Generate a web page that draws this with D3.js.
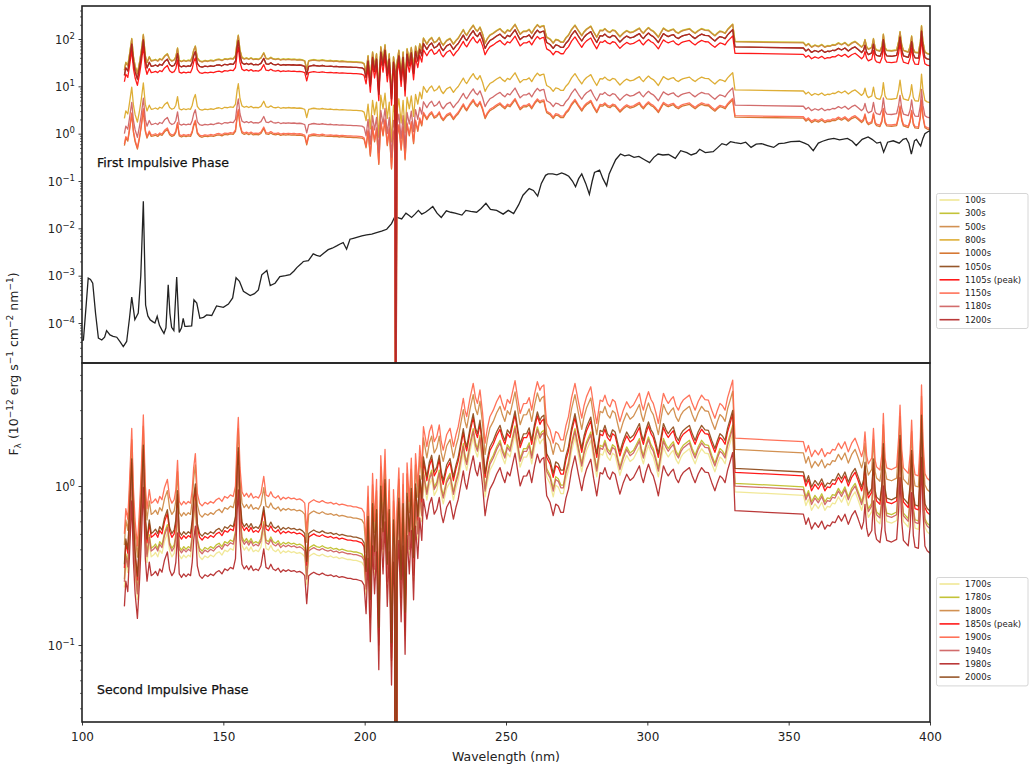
<!DOCTYPE html>
<html>
<head>
<meta charset="utf-8">
<script src="https://cdn.jsdelivr.net/npm/d3@7"></script>
<style>
  body { margin: 0; background: #fff; }
  svg { display: block; font-family: "DejaVu Sans", sans-serif; }
</style>
</head>
<body>
<svg id="chart" width="1029" height="767"></svg>
<script>
// Spectral profile of the 1900s run (lower panel), [wavelength nm, flux].
// The other runs are this profile times the level read for each run.
const profile = [
  [115.0, 0.50], [115.5, 0.72], [116.2, 0.62], [116.8, 1.05], [117.6, 2.3], [118.2, 0.95], [118.8, 0.6],
  [119.6, 0.42], [120.4, 0.75], [121.0, 1.3], [121.7, 2.8], [122.4, 1.0], [123.0, 0.72], [123.8, 0.95],
  [124.5, 0.78], [125.3, 0.8], [126.0, 0.83], [126.8, 0.78], [127.5, 0.86], [128.3, 0.82], [129.2, 0.98],
  [130.2, 1.1], [131.0, 0.85], [131.8, 0.78], [132.6, 0.82], [133.2, 0.95], [133.8, 1.45], [134.4, 0.8],
  [135.2, 0.76], [136.0, 0.8], [136.8, 0.77], [137.6, 0.8], [138.4, 0.78], [139.0, 0.95], [139.5, 1.3],
  [140.1, 1.6], [140.8, 0.9], [141.6, 0.78], [142.5, 0.75], [143.5, 0.79], [144.5, 0.77], [145.5, 0.8],
  [146.5, 0.78], [147.5, 0.82], [148.5, 0.84], [149.5, 0.8], [150.5, 0.86], [151.5, 0.84], [152.5, 0.88],
  [153.5, 0.86], [154.3, 1.0], [154.9, 2.0], [155.3, 2.7], [155.9, 1.3], [156.6, 0.92], [157.4, 0.86],
  [158.2, 0.9], [159.0, 0.85], [159.8, 0.9], [160.6, 0.84], [161.5, 0.86], [162.4, 0.84], [163.3, 0.9],
  [164.3, 1.15], [165.1, 0.88], [166.0, 0.86], [166.8, 0.92], [167.6, 0.86], [168.5, 0.84], [169.4, 0.87],
  [170.3, 0.82], [171.2, 0.85], [172.1, 0.83], [173.0, 0.85], [174.0, 0.83], [175.0, 0.84], [176.0, 0.82],
  [177.0, 0.83], [178.0, 0.81], [178.8, 0.78], [179.5, 0.52], [180.2, 0.78], [181.0, 0.8], [182.0, 0.82],
  [183.0, 0.8], [184.0, 0.79], [185.0, 0.81], [186.0, 0.79], [187.0, 0.78], [188.0, 0.79], [189.0, 0.77],
  [190.0, 0.78], [191.0, 0.76], [192.0, 0.77], [193.0, 0.76], [194.0, 0.75], [195.0, 0.75], [196.0, 0.74],
  [197.0, 0.74], [198.0, 0.73], [199.0, 0.72], [199.8, 0.68], [200.5, 0.45],
  [201.2, 1.0], [202.0, 0.3], [202.8, 1.2], [203.5, 0.6], [204.2, 1.1], [205.0, 0.2], [205.7, 1.55],
  [206.5, 0.8], [207.2, 1.7], [208.0, 0.5], [208.7, 1.1], [209.5, 0.16], [210.2, 0.95], [210.7, 0.6],
  [211.0, 1e-9], [211.4, 0.7], [212.1, 1.3], [212.9, 0.4], [213.6, 1.2], [214.3, 0.25], [215.0, 1.4],
  [215.8, 0.8], [216.5, 1.5], [217.3, 0.55], [218.0, 1.6], [218.8, 1.0], [219.5, 1.8], [220.2, 1.3],
  [220.8, 2.36], [222.0, 1.77], [222.9, 2.2], [223.7, 2.42], [224.6, 1.9], [225.5, 2.04], [226.4, 2.42],
  [227.1, 1.9], [227.8, 1.68], [229.0, 2.1], [230.2, 2.31], [231.4, 1.77], [232.3, 2.1], [233.1, 2.36],
  [234.0, 2.9], [234.9, 3.56], [235.5, 3.0], [236.1, 2.73], [237.3, 3.6], [238.4, 4.42], [239.2, 3.6],
  [239.9, 3.31], [240.8, 4.02], [241.7, 2.9], [242.6, 1.86], [243.4, 2.3], [244.3, 2.73], [245.5, 3.0],
  [246.7, 3.4], [247.9, 3.73], [248.7, 3.3], [249.6, 3.0], [250.5, 3.5], [251.4, 3.31], [252.3, 3.9],
  [253.2, 4.6], [254.1, 3.6], [255.0, 2.86], [256.2, 3.3], [257.3, 3.31], [258.2, 3.6], [259.1, 3.0],
  [260.1, 3.8], [261.1, 4.53], [262.0, 4.0], [262.6, 4.21], [263.4, 4.32], [264.0, 3.0], [264.4, 2.48],
  [265.6, 2.25], [266.7, 1.86], [267.6, 2.2], [268.5, 2.14], [269.4, 1.95], [270.3, 1.95], [271.2, 2.4],
  [272.1, 2.73], [273.2, 3.6], [274.4, 4.42], [275.6, 3.4], [276.8, 2.67], [277.6, 3.2], [278.5, 3.65],
  [279.2, 3.9], [280.0, 4.21], [281.0, 3.2], [282.1, 2.48], [283.3, 3.47], [284.2, 3.4], [285.0, 3.73],
  [285.9, 3.3], [286.8, 3.15], [287.7, 3.5], [288.6, 3.39], [289.5, 2.9], [290.3, 2.54], [291.5, 3.0],
  [292.7, 3.39], [293.9, 3.1], [295.1, 3.23], [296.1, 3.5], [297.2, 3.83], [297.9, 3.3], [298.6, 3.0],
  [299.5, 3.5], [300.4, 3.92], [301.3, 3.5], [302.1, 3.31], [303.0, 2.9], [303.9, 2.48], [304.8, 3.1],
  [305.7, 3.83], [306.6, 3.5], [307.4, 3.31], [308.3, 3.5], [309.2, 3.65], [310.1, 3.2], [311.0, 3.0],
  [311.9, 3.3], [312.7, 3.47], [313.8, 3.6], [314.9, 3.73], [315.9, 3.3], [316.9, 3.0], [318.0, 3.4],
  [319.2, 3.73], [320.4, 3.5], [321.6, 3.47], [322.8, 3.0], [323.9, 2.67], [324.8, 3.0], [325.7, 3.31],
  [326.6, 3.2], [327.5, 3.0], [328.4, 3.6], [329.2, 4.02], [330.2, 4.64], [331.0, 2.0],
  [355.2, 1.9], [356.1, 1.64], [357.0, 1.8], [358.1, 1.53], [359.3, 1.68], [360.5, 1.57], [361.7, 1.72],
  [362.8, 1.53], [363.7, 1.62], [364.6, 1.6], [365.5, 1.7], [366.4, 1.68], [367.6, 1.86], [368.7, 1.72],
  [369.9, 1.9], [371.1, 1.64], [372.3, 1.86], [373.5, 2.0], [374.6, 1.77], [375.8, 1.53], [376.5, 1.7],
  [377.0, 2.19], [377.6, 1.55], [378.2, 1.38], [379.4, 1.5], [380.0, 2.3], [380.6, 1.45], [381.1, 1.32],
  [382.3, 1.26], [383.0, 1.6], [383.5, 2.86], [384.1, 1.5], [384.7, 1.3], [386.4, 1.27], [388.2, 1.32],
  [388.9, 2.0], [389.4, 3.23], [390.0, 1.7], [390.6, 1.3], [392.3, 1.2], [393.0, 1.6], [393.5, 2.6],
  [394.1, 1.4], [394.7, 1.18], [395.9, 1.16], [396.6, 2.0], [397.0, 4.32], [397.5, 2.0], [398.2, 1.2],
  [399.0, 1.12], [400.0, 1.08]
];

// Quiescent spectrum (black line, upper panel), [wavelength nm, log10 flux]
const quietLog10 = [
  [100.0, -4.36], [100.5, -4.36], [101.5, -3.6], [102.2, -3.05], [103.0, -3.08], [103.8, -3.16],
  [104.8, -3.8], [105.8, -4.32], [107.0, -4.36], [108.0, -4.3], [108.7, -4.16], [109.9, -4.25],
  [111.0, -4.28], [112.3, -4.3], [113.5, -4.4], [114.6, -4.5], [115.8, -4.39], [116.8, -3.9],
  [117.6, -3.45], [118.7, -3.93], [119.9, -3.79], [120.8, -3.0], [121.7, -1.43], [122.5, -3.62],
  [123.3, -3.85], [124.1, -3.93], [125.0, -3.97], [125.8, -4.0], [126.6, -3.86], [127.4, -4.05],
  [128.2, -4.14], [129.0, -4.22], [129.7, -4.1], [130.5, -3.19], [131.1, -3.8], [131.7, -4.09],
  [132.5, -4.16], [133.5, -3.03], [134.4, -4.2], [135.2, -4.1], [135.8, -3.9], [136.4, -4.07],
  [137.0, -4.07], [138.8, -4.06], [139.6, -3.51], [140.6, -3.58], [141.7, -3.9], [143.0, -3.88],
  [144.1, -3.83], [145.9, -3.84], [147.6, -3.64], [150.0, -3.67], [151.8, -3.6], [153.3, -3.47],
  [154.5, -3.04], [155.7, -3.12], [157.1, -3.33], [159.5, -3.42], [161.0, -3.38], [162.4, -3.3],
  [163.6, -2.98], [165.4, -2.89], [166.6, -3.21], [168.3, -3.16], [170.0, -3.02], [172.0, -3.0],
  [173.6, -2.98], [175.0, -2.9], [176.0, -2.83], [177.5, -2.75], [178.3, -2.7], [180.1, -2.68],
  [181.8, -2.54], [183.0, -2.57], [184.2, -2.59], [185.6, -2.52], [187.1, -2.45], [188.5, -2.42],
  [190.1, -2.37], [191.3, -2.33], [192.4, -2.3], [193.6, -2.44], [194.8, -2.23], [196.0, -2.21],
  [197.2, -2.19], [199.0, -2.16], [200.7, -2.14], [202.5, -2.12], [204.2, -2.09], [206.0, -2.06],
  [207.8, -2.02], [209.5, -1.9], [210.7, -1.75], [212.0, -1.78], [213.1, -1.8], [214.6, -1.68],
  [215.5, -1.72], [216.6, -1.77], [217.8, -1.7], [219.0, -1.62], [220.2, -1.7], [221.5, -1.66],
  [222.8, -1.6], [224.1, -1.54], [225.6, -1.68], [227.1, -1.77], [228.9, -1.63], [230.5, -1.66],
  [232.0, -1.68], [234.4, -1.72], [235.8, -1.62], [237.5, -1.64], [239.6, -1.66], [241.2, -1.58],
  [242.9, -1.47], [244.5, -1.6], [246.7, -1.62], [249.0, -1.7], [250.8, -1.62], [252.7, -1.69],
  [254.5, -1.5], [256.0, -1.3], [258.2, -1.16], [259.7, -1.2], [261.2, -1.32], [262.5, -1.05],
  [264.0, -0.88], [264.9, -0.85], [266.5, -0.85], [268.0, -0.87], [269.7, -0.83], [271.0, -0.86],
  [272.2, -0.9], [273.5, -1.0], [274.6, -1.12], [275.7, -0.95], [276.8, -0.85], [278.2, -1.05],
  [279.5, -1.28], [280.5, -1.0], [281.3, -0.82], [283.1, -0.77], [284.3, -0.95], [285.6, -1.1],
  [286.5, -0.85], [287.4, -0.73], [288.8, -0.55], [290.5, -0.43], [292.0, -0.47], [293.5, -0.45],
  [295.3, -0.5], [297.0, -0.48], [299.0, -0.55], [300.8, -0.61], [302.3, -0.5], [303.8, -0.43],
  [305.5, -0.45], [307.5, -0.44], [309.9, -0.52], [311.8, -0.36], [314.0, -0.4], [315.5, -0.45],
  [317.3, -0.41], [318.5, -0.33], [320.5, -0.4], [323.3, -0.38], [324.8, -0.3], [326.4, -0.21],
  [328.0, -0.24], [329.4, -0.17], [331.0, -0.19], [333.1, -0.21], [334.8, -0.18], [336.7, -0.29],
  [338.5, -0.22], [340.4, -0.21], [342.5, -0.25], [344.7, -0.29], [346.5, -0.21], [348.5, -0.2],
  [350.8, -0.17], [353.8, -0.16], [355.6, -0.2], [357.0, -0.24], [358.7, -0.36], [360.5, -0.2],
  [362.0, -0.16], [364.0, -0.12], [366.0, -0.1], [368.0, -0.13], [370.8, -0.1], [372.5, -0.16],
  [373.9, -0.25], [376.0, -0.12], [378.1, -0.07], [379.5, -0.12], [381.2, -0.2], [382.5, -0.18],
  [383.6, -0.39], [385.0, -0.18], [387.0, -0.15], [389.1, -0.2], [390.5, -0.12], [391.6, -0.1],
  [392.5, -0.2], [393.4, -0.43], [394.5, -0.15], [395.2, -0.12], [396.0, -0.2], [396.7, -0.26],
  [397.5, -0.1], [398.2, 0.0], [399.5, 0.05], [400.0, 0.06]
];

// First impulsive phase runs
const firstLabels = ["100s", "300s", "500s", "800s", "1000s", "1050s", "1105s (peak)", "1150s", "1180s", "1200s"];
const firstColors = ["#f0e68c", "#bcbd22", "#cd853f", "#daa520", "#d2691e", "#8b4513", "#ff0000", "#ff6347", "#cd5c5c", "#b22222"];
const firstLevel = [45, 44.5, 43.5, 4.2, 1.12, 34, 25, 1.2, 2.0, 34];

// Second impulsive phase runs
const secondLabels = ["1700s", "1780s", "1800s", "1850s (peak)", "1900s", "1940s", "1980s", "2000s"];
const secondColors = ["#f0e68c", "#bcbd22", "#cd853f", "#ff0000", "#ff6347", "#cd5c5c", "#b22222", "#8b4513"];
const secondLevel = [0.46, 0.52, 0.85, 0.61, 1, 0.5, 0.35, 0.645];

const xTicks = [100, 150, 200, 250, 300, 350, 400];
const firstYTicks = [1e-4, 1e-3, 1e-2, 1e-1, 1e0, 1e1, 1e2];
const secondYTicks = [1e-1, 1e0];

const svg = d3.select("#chart");
const left = 82, right = 930;
const ink = "#222";

const x = d3.scaleLinear().domain([100, 400]).range([left, right]);

function minorTicks(domain) {
  const out = [];
  const lo = Math.floor(Math.log10(domain[0])), hi = Math.ceil(Math.log10(domain[1]));
  for (let e = lo; e <= hi; e++) {
    for (let k = 2; k <= 9; k++) {
      const v = k * Math.pow(10, e);
      if (v >= domain[0] && v <= domain[1]) out.push(v);
    }
  }
  return out;
}

function supLabel(sel) {
  sel.each(function (d) {
    const t = d3.select(this).text(null);
    const e = Math.round(Math.log10(d));
    t.append("tspan").text("10");
    t.append("tspan").attr("dy", "-5").attr("font-size", "8.5px").text(e < 0 ? "\u2212" + (-e) : String(e));
  });
}

function drawPanel(cfg) {
  const y = d3.scaleLog().domain(cfg.domain).range([cfg.bottom, cfg.top]);
  const g = svg.append("g");

  g.append("clipPath").attr("id", cfg.id)
    .append("rect").attr("x", left).attr("y", cfg.top)
    .attr("width", right - left).attr("height", cfg.bottom - cfg.top);

  const plot = g.append("g").attr("clip-path", `url(#${cfg.id})`);
  const line = d3.line().x((d) => x(d[0])).y((d) => y(d[1]));

  if (cfg.quiet) {
    plot.append("path")
      .attr("d", line(cfg.quiet.map((d) => [d[0], Math.pow(10, d[1])])))
      .attr("fill", "none").attr("stroke", "#222").attr("stroke-width", 1.3);
  }

  cfg.levels.forEach((lvl, i) => {
    plot.append("path")
      .attr("d", line(profile.map((d) => [d[0], d[1] * lvl])))
      .attr("fill", "none")
      .attr("stroke", cfg.colors[i])
      .attr("stroke-opacity", 0.9)
      .attr("stroke-width", 1.3)
      .attr("stroke-linejoin", "round");
  });

  // y axis: major + minor ticks
  const major = g.append("g").attr("transform", `translate(${left},0)`)
    .call(d3.axisLeft(y).tickValues(cfg.yTicks).tickSize(3.5).tickPadding(3.5).tickFormat(() => ""));
  major.select(".domain").remove();
  major.selectAll("line").attr("stroke", ink).attr("stroke-width", 0.9);
  major.selectAll("text").attr("fill", ink).attr("font-size", "11.5px")
    .attr("font-family", "DejaVu Sans, sans-serif").attr("dy", "0.35em").call(supLabel);

  const minor = g.append("g").attr("transform", `translate(${left},0)`)
    .call(d3.axisLeft(y).tickValues(minorTicks(cfg.domain)).tickSize(2).tickFormat(() => ""));
  minor.select(".domain").remove();
  minor.selectAll("line").attr("stroke", ink).attr("stroke-width", 0.7);

  if (cfg.xAxis) {
    const xa = g.append("g").attr("transform", `translate(0,${cfg.bottom})`)
      .call(d3.axisBottom(x).tickValues(xTicks).tickSize(3.5).tickPadding(6.5).tickFormat(d3.format("d")));
    xa.select(".domain").remove();
    xa.selectAll("line").attr("stroke", ink).attr("stroke-width", 0.9);
    xa.selectAll("text").attr("fill", ink).attr("font-size", "12px")
      .attr("font-family", "DejaVu Sans, sans-serif");
  }

  g.append("rect").attr("x", left).attr("y", cfg.top)
    .attr("width", right - left).attr("height", cfg.bottom - cfg.top)
    .attr("fill", "none").attr("stroke", ink).attr("stroke-width", 1.6);

  g.append("text").attr("x", 97).attr("y", cfg.noteY)
    .attr("font-size", "12.5px").attr("fill", "#111")
    .attr("stroke", "#111").attr("stroke-width", 0.25).text(cfg.note);

  // legend
  const lg = g.append("g").attr("transform", `translate(936,${cfg.legendTop})`);
  const rowH = 13.3;
  lg.append("rect").attr("x", 0.5).attr("y", 0.5).attr("rx", 2)
    .attr("width", 91.5).attr("height", cfg.labels.length * rowH + 2)
    .attr("fill", "#fff").attr("fill-opacity", 0.8).attr("stroke", "#cccccc").attr("stroke-width", 0.8);
  cfg.labels.forEach((lab, i) => {
    const yy = 7 + i * rowH;
    lg.append("line").attr("x1", 3.5).attr("x2", 23.5).attr("y1", yy).attr("y2", yy)
      .attr("stroke", cfg.colors[i]).attr("stroke-opacity", 0.9).attr("stroke-width", 1.6);
    lg.append("text").attr("x", 29).attr("y", yy + 3).attr("font-size", "8.5px").attr("fill", ink).text(lab);
  });
}

drawPanel({
  id: "clipTop", top: 6, bottom: 363, domain: [1.43e-5, 498],
  yTicks: firstYTicks, levels: firstLevel, colors: firstColors, labels: firstLabels,
  quiet: quietLog10, note: "First Impulsive Phase", noteY: 167, legendTop: 193, xAxis: false
});

drawPanel({
  id: "clipBottom", top: 363, bottom: 722, domain: [0.0328, 5.94],
  yTicks: secondYTicks, levels: secondLevel, colors: secondColors, labels: secondLabels,
  quiet: null, note: "Second Impulsive Phase", noteY: 694, legendTop: 577, xAxis: true
});

// axis titles
svg.append("text").attr("x", 506).attr("y", 761).attr("text-anchor", "middle")
  .attr("font-size", "12.5px").attr("fill", ink).text("Wavelength (nm)");

const yl = svg.append("text").attr("transform", "translate(18,364) rotate(-90)")
  .attr("text-anchor", "middle").attr("font-size", "12.5px").attr("fill", ink);
yl.append("tspan").text("F");
yl.append("tspan").attr("dy", 3).attr("font-size", "9px").text("\u03bb");
yl.append("tspan").attr("dy", -3).text(" (10");
yl.append("tspan").attr("dy", -5).attr("font-size", "9px").text("\u221212");
yl.append("tspan").attr("dy", 5).text(" erg s");
yl.append("tspan").attr("dy", -5).attr("font-size", "9px").text("\u22121");
yl.append("tspan").attr("dy", 5).text(" cm");
yl.append("tspan").attr("dy", -5).attr("font-size", "9px").text("\u22122");
yl.append("tspan").attr("dy", 5).text(" nm");
yl.append("tspan").attr("dy", -5).attr("font-size", "9px").text("\u22121");
yl.append("tspan").attr("dy", 5).text(")");
</script>
</body>
</html>
